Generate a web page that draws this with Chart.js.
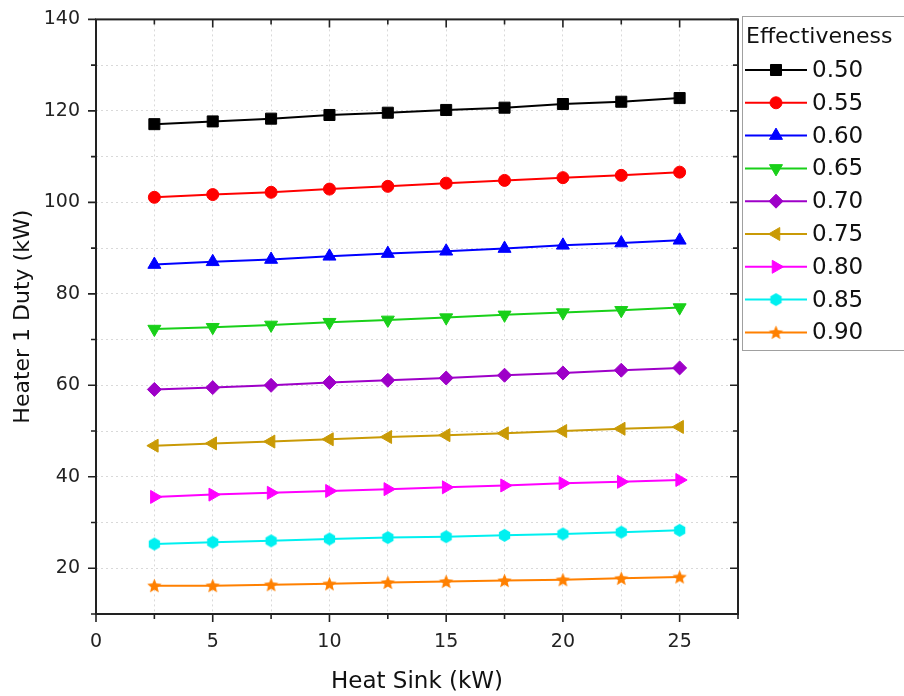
<!DOCTYPE html>
<html>
<head>
<meta charset="utf-8">
<script src="https://cdn.jsdelivr.net/npm/chart.js"></script>
<style>
  html, body { margin: 0; padding: 0; background: #fff; }
  canvas { display: block; }
</style>
</head>
<body>
<canvas id="c" width="904" height="696"></canvas>
<script>
// ---- data ----
const heatSink = [2.5, 5, 7.5, 10, 12.5, 15, 17.5, 20, 22.5, 25];
const effLabels = ['0.50', '0.55', '0.60', '0.65', '0.70', '0.75', '0.80', '0.85', '0.90'];
const duty050 = [117.1, 117.7, 118.3, 119.1, 119.6, 120.2, 120.7, 121.5, 122.0, 122.8];
const duty055 = [101.1, 101.7, 102.2, 102.9, 103.5, 104.2, 104.8, 105.4, 105.9, 106.6];
const duty060 = [86.4, 87.0, 87.5, 88.2, 88.8, 89.3, 89.9, 90.6, 91.1, 91.7];
const duty065 = [72.3, 72.7, 73.2, 73.8, 74.3, 74.8, 75.4, 75.9, 76.4, 77.0];
const duty070 = [59.1, 59.5, 60.0, 60.6, 61.1, 61.6, 62.2, 62.7, 63.3, 63.8];
const duty075 = [46.8, 47.3, 47.7, 48.2, 48.7, 49.1, 49.5, 50.0, 50.5, 50.9];
const duty080 = [35.6, 36.1, 36.5, 36.9, 37.3, 37.7, 38.1, 38.6, 38.9, 39.3];
const duty085 = [25.3, 25.7, 26.0, 26.4, 26.7, 26.9, 27.2, 27.5, 27.9, 28.3];
const duty090 = [16.2, 16.2, 16.4, 16.6, 16.9, 17.1, 17.3, 17.5, 17.8, 18.1];
const xTickLabels = ['0', '5', '10', '15', '20', '25'];
const yTickLabels = ['20', '40', '60', '80', '100', '120', '140'];

const FONT = "'DejaVu Sans', 'Liberation Sans', Arial, sans-serif";

// custom marker images (hexagon, filled star)
function makeHexagon(color, r) {
  const c = document.createElement('canvas');
  const s = Math.ceil(r * 2 + 2);
  c.width = s; c.height = s;
  const g = c.getContext('2d');
  g.fillStyle = color;
  g.beginPath();
  for (let i = 0; i < 6; i++) {
    const a = Math.PI / 6 + i * Math.PI / 3;
    const px = s / 2 + r * Math.cos(a), py = s / 2 + r * Math.sin(a);
    i ? g.lineTo(px, py) : g.moveTo(px, py);
  }
  g.closePath(); g.fill();
  return c;
}
function makeStar(color, r) {
  const c = document.createElement('canvas');
  const s = Math.ceil(r * 2 + 2);
  c.width = s; c.height = s;
  const g = c.getContext('2d');
  g.fillStyle = color;
  g.beginPath();
  for (let i = 0; i < 10; i++) {
    const rr = i % 2 ? r * 0.45 : r;
    const a = -Math.PI / 2 + i * Math.PI / 5;
    const px = s / 2 + rr * Math.cos(a), py = s / 2 + 0.6 + rr * Math.sin(a);
    i ? g.lineTo(px, py) : g.moveTo(px, py);
  }
  g.closePath(); g.fill();
  return c;
}

const series = [duty050, duty055, duty060, duty065, duty070, duty075, duty080, duty085, duty090];
const colors = ['#000000', '#ff0000', '#0000ff', '#19d019', '#9e00c8', '#c99a06', '#ff00ff', '#00f0f0', '#ff8000'];
const styles = [
  { pointStyle: 'rect', radius: 7.8, rotation: 0 },
  { pointStyle: 'circle', radius: 6, rotation: 0 },
  { pointStyle: 'triangle', radius: 7.5, rotation: 0 },
  { pointStyle: 'triangle', radius: 7.5, rotation: 180 },
  { pointStyle: 'rectRot', radius: 7, rotation: 0 },
  { pointStyle: 'triangle', radius: 7.5, rotation: 270 },
  { pointStyle: 'triangle', radius: 7.5, rotation: 90 },
  { pointStyle: makeHexagon('#00f0f0', 6.5), radius: 6.5, rotation: 0 },
  { pointStyle: makeStar('#ff8000', 7.5), radius: 7.5, rotation: 0 }
];

const datasets = series.map((vals, i) => ({
  label: effLabels[i],
  data: heatSink.map((x, k) => ({ x: x, y: vals[k] })),
  borderColor: colors[i],
  backgroundColor: colors[i],
  borderWidth: 2,
  pointStyle: styles[i].pointStyle,
  pointRadius: styles[i].radius,
  pointRotation: styles[i].rotation,
  pointBorderWidth: 1,
  pointBorderColor: colors[i],
  pointBackgroundColor: colors[i],
  tension: 0
}));

const framePlugin = {
  id: 'frame',
  afterDraw(chart) {
    const { ctx, chartArea: { left, right, top, bottom }, scales: { x, y } } = chart;
    ctx.save();
    ctx.strokeStyle = '#222';
    ctx.lineWidth = 1.6;
    ctx.beginPath();
    x.ticks.forEach(t => {
      const px = x.getPixelForValue(t.value);
      const major = xTickLabels.includes(String(t.value));
      const L = major ? 8 : 5;
      ctx.moveTo(px, bottom); ctx.lineTo(px, bottom + L);
      ctx.moveTo(px, top); ctx.lineTo(px, top + L);
    });
    y.ticks.forEach(t => {
      const py = y.getPixelForValue(t.value);
      const major = yTickLabels.includes(String(t.value));
      const L = major ? 8 : 5;
      ctx.moveTo(left, py); ctx.lineTo(left - L, py);
      ctx.moveTo(right, py); ctx.lineTo(right - L, py);
    });
    ctx.stroke();
    ctx.lineWidth = 2;
    ctx.strokeRect(left, top, right - left, bottom - top);
    ctx.restore();

    // legend
    ctx.save();
    ctx.strokeStyle = '#a0a0a0';
    ctx.lineWidth = 1;
    ctx.strokeRect(742.5, 16.5, 200, 334);
    ctx.fillStyle = '#111';
    ctx.font = '22px ' + FONT;
    ctx.textBaseline = 'middle';
    ctx.textAlign = 'left';
    ctx.fillText('Effectiveness', 746, 37);
    chart.data.datasets.forEach((ds, i) => {
      const cy = 70 + i * 32.8;
      ctx.strokeStyle = ds.borderColor;
      ctx.lineWidth = 2;
      ctx.beginPath(); ctx.moveTo(745, cy); ctx.lineTo(807, cy); ctx.stroke();
      ctx.fillStyle = ds.borderColor;
      ctx.lineWidth = 1;
      Chart.helpers.drawPoint(ctx, { pointStyle: ds.pointStyle, radius: ds.pointRadius, rotation: ds.pointRotation, borderWidth: 1 }, 776, cy);
      ctx.fillStyle = '#111';
      ctx.font = '23px ' + FONT;
      ctx.fillText(ds.label, 812, cy + 1);
    });
    ctx.restore();
  }
};

new Chart(document.getElementById('c'), {
  type: 'line',
  data: { datasets },
  plugins: [framePlugin],
  options: {
    responsive: false,
    animation: false,
    events: [],
    layout: { padding: { left: 0, top: 18, right: 166, bottom: 0 } },
    plugins: { legend: { display: false }, tooltip: { enabled: false } },
    scales: {
      x: {
        type: 'linear',
        min: 0, max: 27.5,
        afterFit: s => { s.height = 82; },
        border: { display: false, dash: [2, 3] },
        grid: { color: '#d9d9d9', lineWidth: 1, drawTicks: true, tickLength: 8, tickColor: 'rgba(0,0,0,0)' },
        ticks: {
          stepSize: 2.5, autoSkip: false, maxRotation: 0, padding: 9,
          color: '#222', font: { family: FONT, size: 19 },
          callback: v => xTickLabels.includes(String(v)) ? String(v) : ''
        },
        title: { display: true, text: 'Heat Sink (kW)', color: '#111', font: { family: FONT, size: 23 }, padding: { top: 0, bottom: 0 } }
      },
      y: {
        type: 'linear',
        min: 10, max: 140,
        afterFit: s => { s.width = 96; },
        border: { display: false, dash: [2, 3] },
        grid: { color: '#d9d9d9', lineWidth: 1, drawTicks: true, tickLength: 8, tickColor: 'rgba(0,0,0,0)' },
        ticks: {
          stepSize: 10, autoSkip: false, padding: 8,
          color: '#222', font: { family: FONT, size: 19 },
          callback: v => yTickLabels.includes(String(v)) ? String(v) : ''
        },
        title: { display: true, text: 'Heater 1 Duty (kW)', color: '#111', font: { family: FONT, size: 22 }, padding: { top: 10, bottom: 0 } }
      }
    }
  }
});
</script>
</body>
</html>
